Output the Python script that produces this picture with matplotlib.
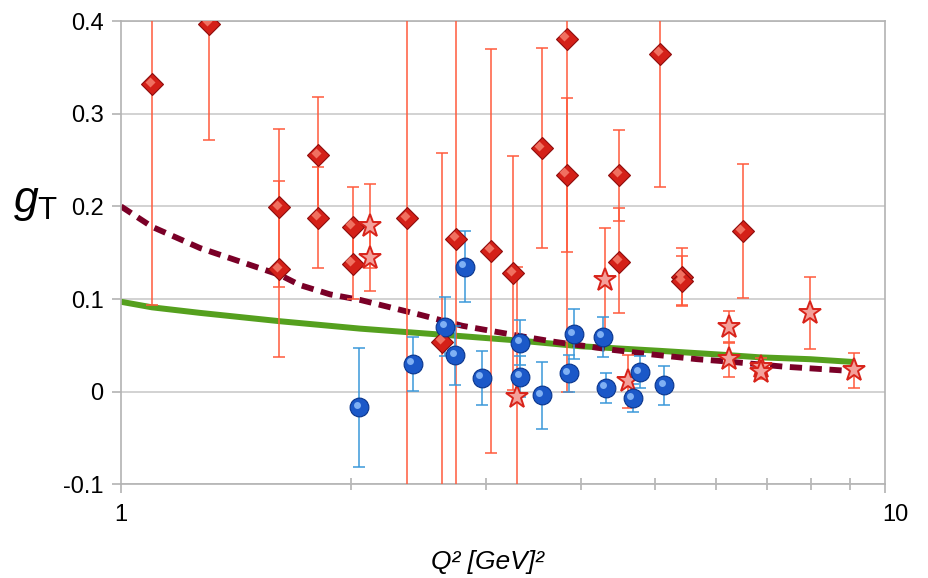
import numpy as np
import matplotlib
matplotlib.use("Agg")
import matplotlib.pyplot as plt
import matplotlib.transforms as mtransforms
from matplotlib.ticker import FixedLocator, NullFormatter

plt.rcParams["font.family"] = ["Liberation Sans", "DejaVu Sans"]
plt.rcParams["mathtext.fontset"] = "custom"
plt.rcParams["mathtext.rm"] = "Liberation Sans"
plt.rcParams["mathtext.it"] = "Liberation Sans:italic"

# --- data ---
# red diamonds: Q2, g_T, lower err, upper err
dia_q2 = [1.098, 1.304, 1.610, 1.610, 1.811, 1.811, 2.012, 2.012, 2.368, 2.632, 2.745,
          3.050, 3.260, 3.556, 3.835, 3.835, 4.486, 4.486, 5.077, 5.424, 5.424, 6.518]
dia_gt = [0.332, 0.397, 0.199, 0.132, 0.255, 0.188, 0.178, 0.138, 0.187, 0.054, 0.165,
          0.152, 0.128, 0.263, 0.381, 0.234, 0.234, 0.140, 0.365, 0.124, 0.119, 0.173]
dia_lo = [0.238, 0.125, 0.086, 0.095, 0.063, 0.054, 0.043, 0.038, 0.400, 0.204, 0.400,
          0.218, 0.126, 0.108, 0.381, 0.083, 0.050, 0.055, 0.144, 0.030, 0.027, 0.072]
dia_hi = [0.238, 0.125, 0.085, 0.095, 0.063, 0.055, 0.043, 0.038, 0.400, 0.204, 0.400,
          0.218, 0.126, 0.108, 0.381, 0.083, 0.048, 0.058, 0.144, 0.031, 0.027, 0.073]

# red stars
star_q2 = [2.118, 2.118, 3.300, 4.300, 4.609, 6.249, 6.249, 6.880, 6.880, 7.976, 9.100]
star_gt = [0.179, 0.144, -0.006, 0.120, 0.011, 0.070, 0.035, 0.027, 0.021, 0.085, 0.023]
star_err = [0.045, 0.035, 0.141, 0.057, 0.029, 0.017, 0.019, 0.009, 0.007, 0.039, 0.019]

# blue spheres
blue_q2 = [2.049, 2.411, 2.656, 2.737, 2.820, 2.968, 3.330, 3.330, 3.556, 3.916, 3.855,
           4.274, 4.310, 4.778, 4.679, 5.138]
blue_gt = [-0.017, 0.030, 0.070, 0.039, 0.135, 0.015, 0.053, 0.016, -0.004, 0.062, 0.020,
           0.059, 0.004, 0.021, -0.007, 0.007]
blue_err = [0.064, 0.029, 0.032, 0.032, 0.038, 0.029, 0.024, 0.022, 0.036, 0.027, 0.020,
            0.022, 0.016, 0.017, 0.015, 0.021]

# model curves
green_q2 = [1.0, 1.098, 1.269, 1.614, 1.822, 2.056, 2.389, 2.778, 3.33, 3.988, 5.077,
            6.081, 6.862, 7.976, 9.082]
green_gt = [0.097, 0.091, 0.085, 0.076, 0.072, 0.068, 0.064, 0.060, 0.055, 0.049, 0.044,
            0.040, 0.037, 0.035, 0.032]
dash_q2 = [1.0, 1.098, 1.269, 1.614, 1.715, 1.878, 2.056, 2.463, 2.80, 3.33, 3.677,
           4.406, 4.97, 5.675, 6.324, 7.354, 8.733, 9.082]
dash_gt = [0.200, 0.178, 0.155, 0.126, 0.115, 0.105, 0.099, 0.083, 0.071, 0.060, 0.054,
           0.045, 0.040, 0.035, 0.032, 0.027, 0.023, 0.022]

y_ticks = [-0.1, 0.0, 0.1, 0.2, 0.3, 0.4]
y_ticklabels = ["-0.1", "0", "0.1", "0.2", "0.3", "0.4"]
x_ticks = [1, 10]
x_ticklabels = ["1", "10"]

RED_BAR = "#FF5A3C"
BLUE_BAR = "#3A98DA"
GRAY = "#B3B3B3"

fig = plt.figure(figsize=(9.29, 5.78), dpi=100)
ax = fig.add_axes([121 / 929, 1 - 484.2 / 578, 764 / 929, 463 / 578])

ax.set_xscale("log")
ax.set_xlim(1, 10)
ax.set_ylim(-0.1, 0.4)

# curves
ax.plot(green_q2, green_gt, color="#55A01E", lw=4.3, solid_capstyle="butt", zorder=2)
ax.plot(dash_q2, dash_gt, color="#7A0027", lw=4.2, dashes=(2.1, 1.3), zorder=2)

# error bars
ax.errorbar(dia_q2, dia_gt, yerr=[dia_lo, dia_hi], fmt="none", ecolor=RED_BAR,
            elinewidth=1.1, capsize=4.5, capthick=1.1, zorder=3)
ax.errorbar(star_q2, star_gt, yerr=star_err, fmt="none", ecolor=RED_BAR,
            elinewidth=1.1, capsize=4.5, capthick=1.1, zorder=3)
ax.errorbar(blue_q2, blue_gt, yerr=blue_err, fmt="none", ecolor=BLUE_BAR,
            elinewidth=1.1, capsize=4.5, capthick=1.1, zorder=3)

# small offset for the shiny highlight on the markers
hl = ax.transData + mtransforms.ScaledTranslation(-0.025, 0.025, fig.dpi_scale_trans)

# markers
ax.plot(dia_q2, dia_gt, ls="none", marker="D", ms=11.5, mfc="#D42018", mec="#8E0C0C",
        mew=0.8, zorder=4)
ax.plot(dia_q2, dia_gt, ls="none", marker="D", ms=5, mfc="#F07060", mec="none",
        transform=hl, zorder=5)
ax.plot(star_q2, star_gt, ls="none", marker="*", ms=17, mfc="#F4A09A", mec="#D8231A",
        mew=1.4, zorder=4)
ax.plot(blue_q2, blue_gt, ls="none", marker="o", ms=13.5, mfc="#1B58C8", mec="#0A358C",
        mew=0.8, zorder=4)
ax.plot(blue_q2, blue_gt, ls="none", marker="o", ms=5, mfc="#7FB0F4", mec="none",
        transform=hl, zorder=5)

# axes styling
for s in ax.spines.values():
    s.set_color(GRAY)
    s.set_linewidth(1.2)
ax.yaxis.grid(True, color="#D2D2D2", lw=1.4)
ax.set_axisbelow(True)

ax.set_yticks(y_ticks)
ax.set_yticklabels(y_ticklabels)
ax.xaxis.set_major_locator(FixedLocator(x_ticks))
ax.set_xticklabels(x_ticklabels)
ax.xaxis.set_minor_locator(FixedLocator([2, 3, 4, 5, 6, 7, 8, 9]))
ax.xaxis.set_minor_formatter(NullFormatter())
ax.tick_params(axis="y", which="major", direction="out", length=6.5, width=1.2,
               color=GRAY, labelsize=17, pad=6)
ax.tick_params(axis="x", which="major", direction="out", length=6.5, width=1.2,
               color=GRAY, labelsize=17, pad=8)
ax.tick_params(axis="x", which="minor", direction="inout", length=9, width=1.2,
               color=GRAY)

lbl = ax.get_xticklabels()[1]
lbl.set_transform(lbl.get_transform() + mtransforms.ScaledTranslation(0.1, 0, fig.dpi_scale_trans))

fig.text(487 / 929, 1 - 562 / 578, "Q² [GeV]²", fontsize=19, style="italic",
         ha="center", va="center")
fig.text(36 / 929, 1 - 203 / 578, r"$g_{\mathrm{T}}$", fontsize=32, ha="center", va="center")

fig.savefig("out.png", dpi=100)
